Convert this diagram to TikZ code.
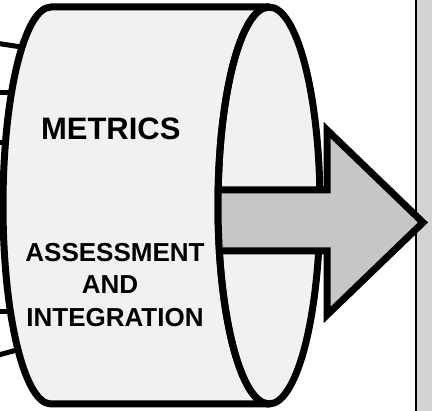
\documentclass[tikz,border=0pt]{standalone}
\usepackage{fontspec}
\setmainfont{Liberation Sans}
\definecolor{cylfill}{RGB}{241,241,241}
\definecolor{arrowfill}{RGB}{198,198,198}
\definecolor{panelgray}{RGB}{211,211,211}
\begin{document}
\begin{tikzpicture}[x=1pt,y=-1pt,
  outl/.style={draw=black,line width=7pt,line join=miter},
  stub/.style={draw=black,line width=5pt},
  lbl/.style={inner sep=0pt,font=\bfseries},
]
\useasboundingbox (0,0) rectangle (432,411);
% right panel
\fill[panelgray] (415,0) rectangle (432,411);
\draw[line width=2pt] (415.5,0) -- (415.5,411);
% left stub connectors
\coordinate (s1a) at (-5,43); \coordinate (s1b) at (28,48);
\coordinate (s2a) at (-5,93); \coordinate (s2b) at (17,93);
\coordinate (s3a) at (-5,143); \coordinate (s3b) at (11,143);
\coordinate (s4a) at (-5,312); \coordinate (s4b) at (16,312);
\coordinate (s5a) at (-5,356); \coordinate (s5b) at (24,348);
\draw[stub] (s1a) -- (s1b);
\draw[stub] (s2a) -- (s2b);
\draw[stub] (s3a) -- (s3b);
\draw[stub] (s4a) -- (s4b);
\draw[stub] (s5a) -- (s5b);
% cylinder body
\fill[cylfill] (51,7) -- (269,7) arc[start angle=-90,end angle=90,x radius=51,y radius=198.5]
  -- (51,404) arc[start angle=90,end angle=270,x radius=48,y radius=198.5] -- cycle;
\draw[outl] (269,7) -- (51,7) arc[start angle=270,end angle=90,x radius=48,y radius=198.5] -- (269,404);
\draw[outl] (269,205.5) ellipse[x radius=51,y radius=198.5];
% arrow
\fill[arrowfill] (221,190) -- (327,190) -- (327,130) -- (423,222.5) -- (327,315) -- (327,251) -- (221,251) -- cycle;
\draw[outl] (219,190) -- (327,190) -- (327,130) -- (423,222.5) -- (327,315) -- (327,251) -- (219,251);
% left edge of front face over the arrow shaft
\draw[outl] (269,7) arc[start angle=-90,end angle=-270,x radius=51,y radius=198.5];
% labels
\node[lbl,font=\bfseries\fontsize{31}{36}\selectfont] (metrics) at (110.8,129) {METRICS};
\node[lbl,font=\bfseries\fontsize{26}{32}\selectfont] (assess) at (115,252.5) {ASSESSMENT};
\node[lbl,font=\bfseries\fontsize{26}{32}\selectfont] (and) at (110,285) {AND};
\node[lbl,font=\bfseries\fontsize{26}{32}\selectfont] (integ) at (115,317.5) {INTEGRATION};
\end{tikzpicture}
\end{document}
